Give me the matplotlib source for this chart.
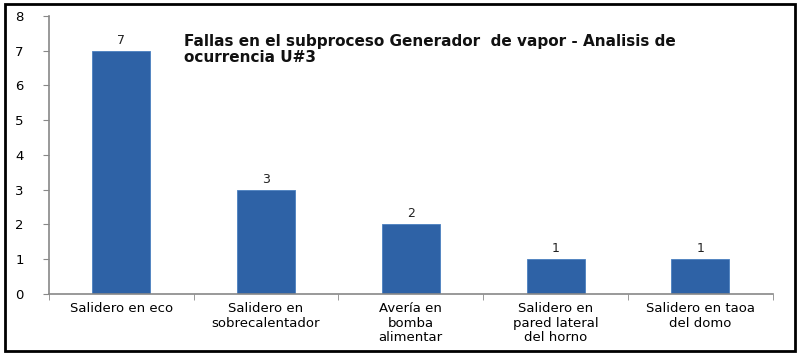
import numpy as np
import matplotlib.pyplot as plt
from matplotlib.patches import Rectangle

# Data
categorias = ['Salidero en eco', 'Salidero en\nsobrecalentador', 'Avería en\nbomba\nalimentar',
              'Salidero en\npared lateral\ndel horno', 'Salidero en taoa\ndel domo']
fallas = [7, 3, 2, 1, 1]
titulo = 'Fallas en el subproceso Generador  de vapor - Analisis de\nocurrencia U#3'

fig = plt.figure(figsize=(8, 3.55), dpi=100)
ax = fig.add_axes([0.061, 0.172, 0.905, 0.783])

x = np.arange(len(categorias))
ax.bar(x, fallas, width=0.4, color='#2E62A6', edgecolor='#4A7FC0', linewidth=0.6, zorder=2)

for xi, v in zip(x, fallas):
    ax.text(xi, v + 0.12, str(v), ha='center', va='bottom', fontsize=9, color='#222222')

ax.set_xlim(-0.5, len(categorias) - 0.5)
ax.set_ylim(0, 8)
ax.set_yticks(range(0, 9))
ax.tick_params(axis='y', labelsize=9.5, length=4, color='#888888', pad=14)

ax.set_xticks(x)
ax.set_xticklabels(categorias, fontsize=9.5, linespacing=1.15)
ax.tick_params(axis='x', which='major', length=0, pad=6)
ax.set_xticks(np.arange(-0.5, len(categorias)), minor=True)
ax.tick_params(axis='x', which='minor', length=4, color='#888888')

for s in ['top', 'right']:
    ax.spines[s].set_visible(False)
for s in ['left', 'bottom']:
    ax.spines[s].set_color('#888888')
    ax.spines[s].set_linewidth(1.2)

ax.text(0.187, 0.935, titulo, transform=ax.transAxes, fontsize=11, fontweight='bold',
        va='top', ha='left', color='#111111', linespacing=1.1)

fig.patches.append(Rectangle((0.006, 0.012), 0.988, 0.978, transform=fig.transFigure,
                             fill=False, edgecolor='black', linewidth=2))

fig.savefig('out.png', dpi=100)
